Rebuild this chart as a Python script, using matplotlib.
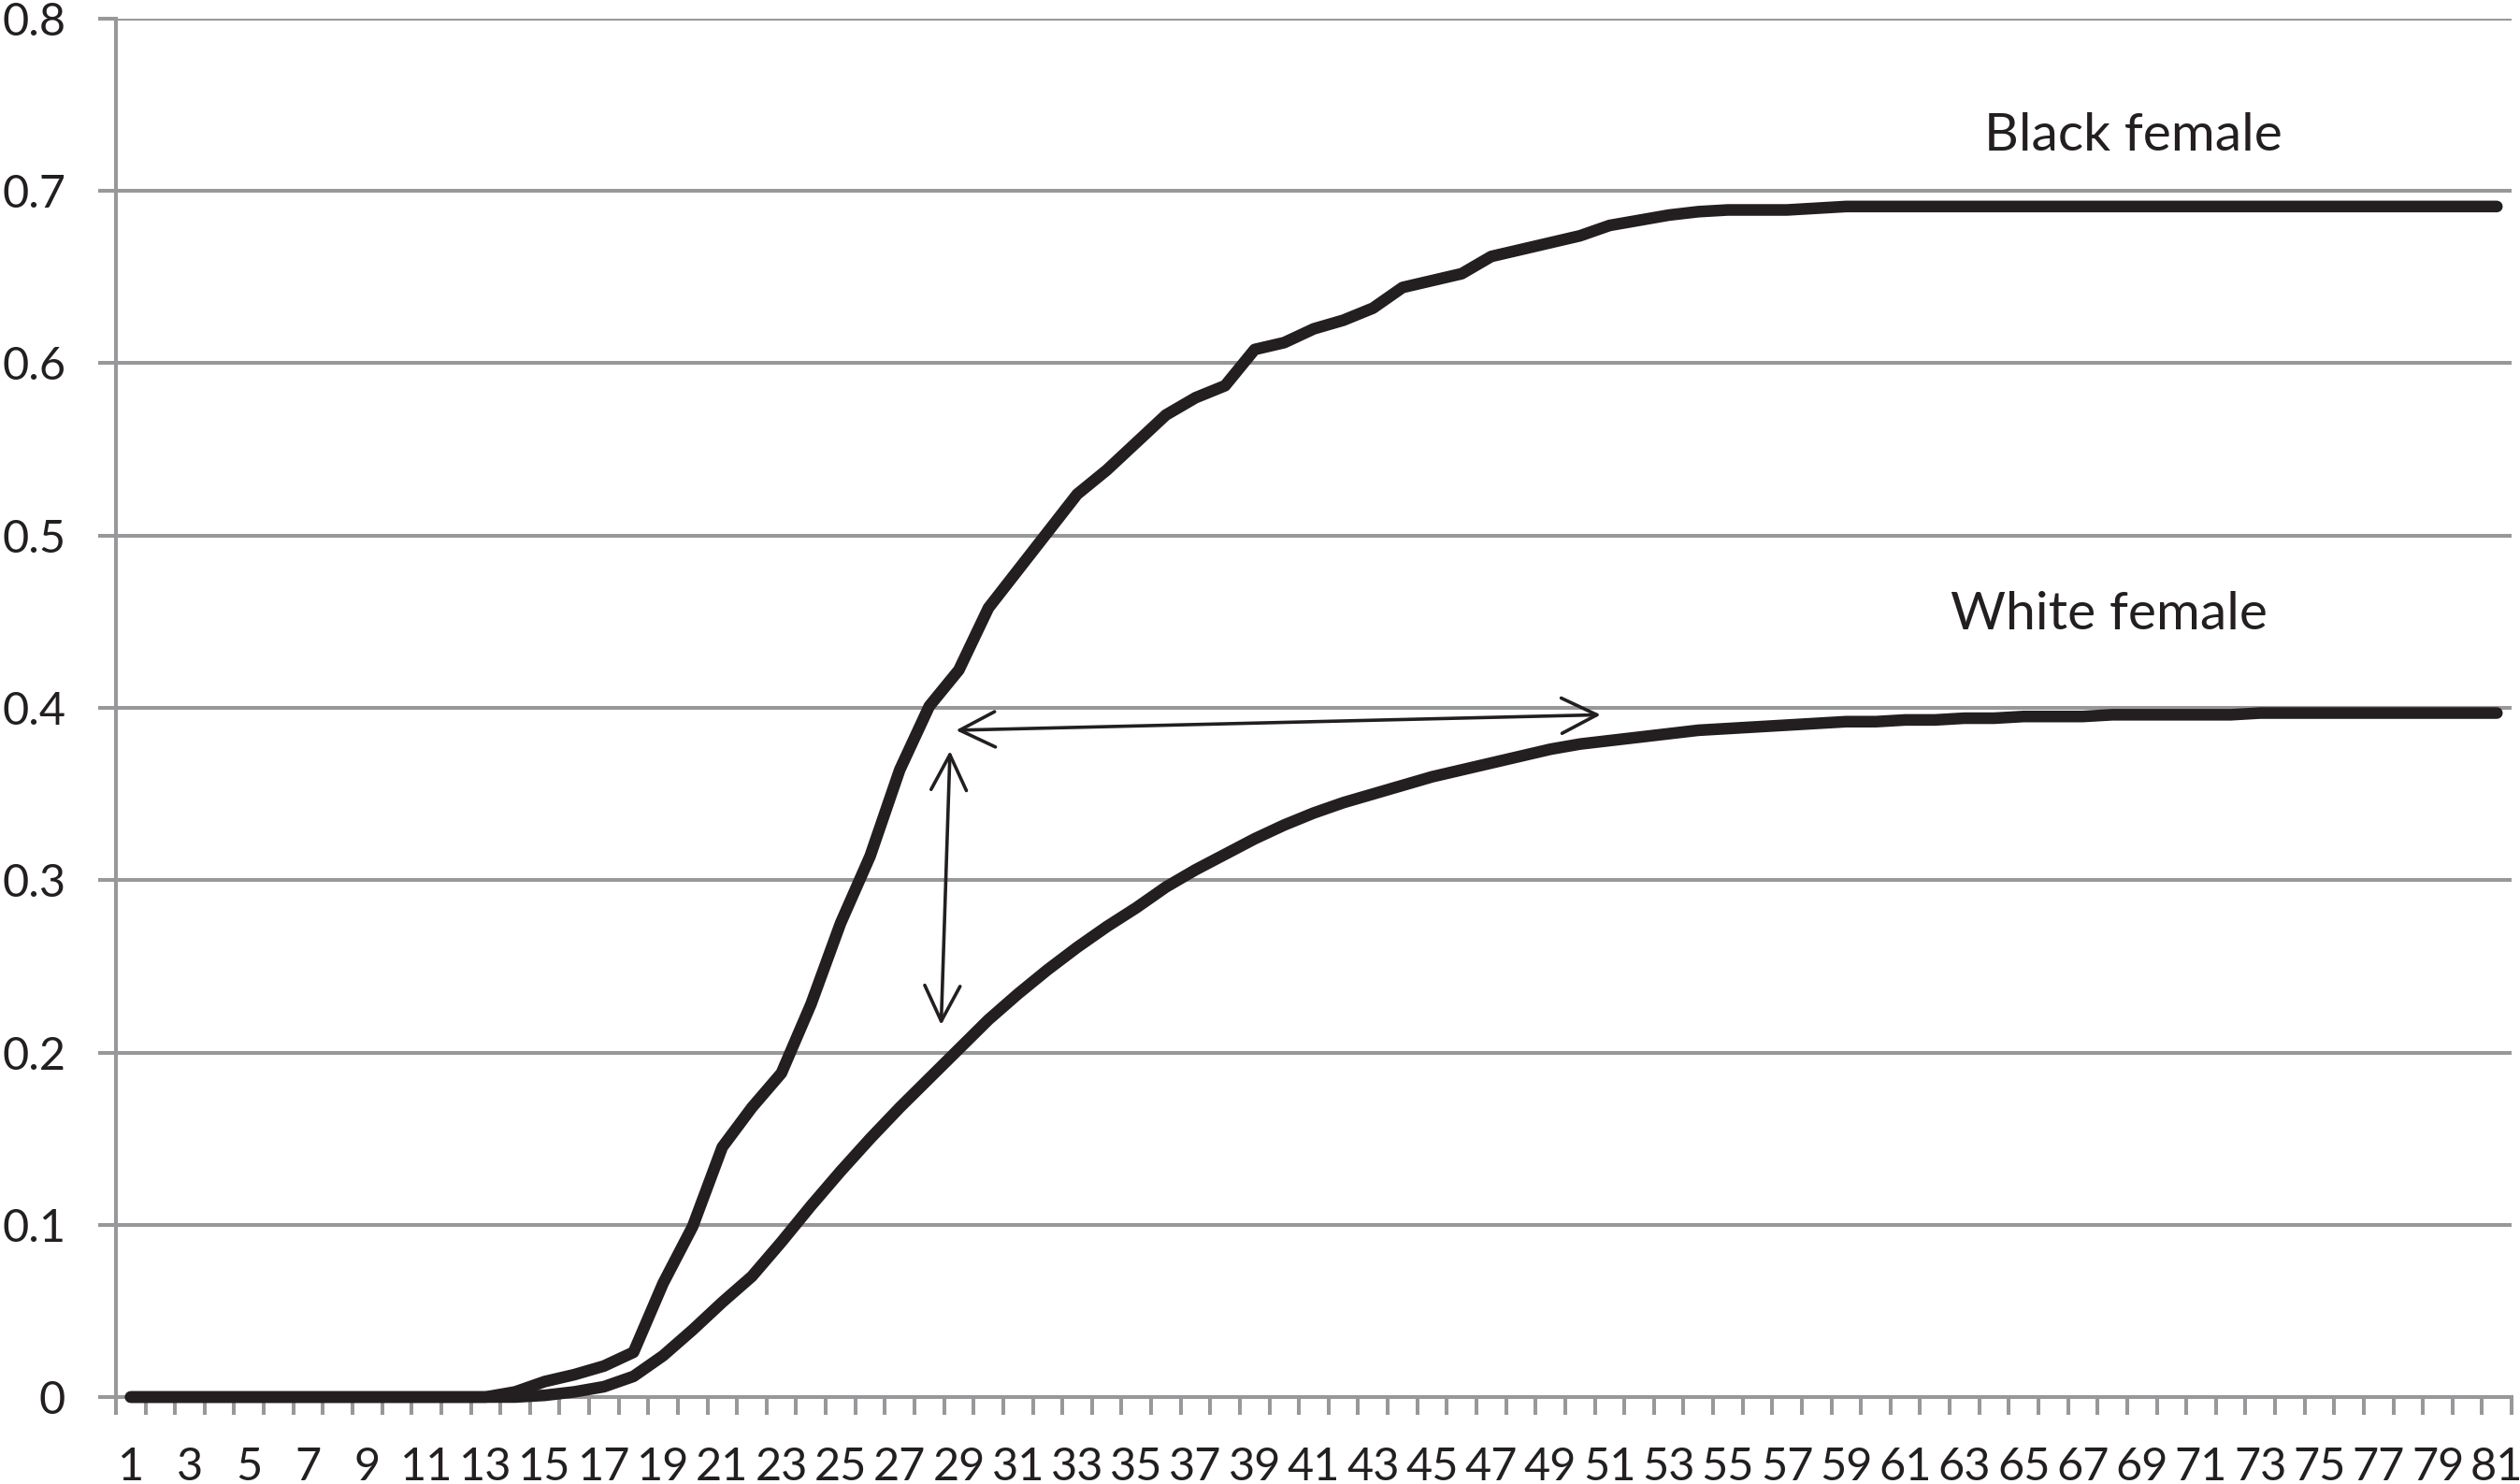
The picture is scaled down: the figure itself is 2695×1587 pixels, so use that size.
import matplotlib.pyplot as plt
from matplotlib.patches import FancyArrowPatch
from matplotlib.ticker import FixedLocator, NullFormatter

# ages 1..81 on a category axis
ages = list(range(1, 82))

black_female = [
    0, 0, 0, 0, 0, 0, 0, 0, 0, 0, 0, 0, 0,
    0.003, 0.009, 0.013, 0.018, 0.026, 0.066, 0.099, 0.145, 0.168, 0.188,
    0.228, 0.275, 0.314, 0.364, 0.401, 0.422, 0.458, 0.480, 0.502, 0.524,
    0.538, 0.554, 0.570, 0.580, 0.587, 0.608, 0.612, 0.620, 0.625, 0.632,
    0.644, 0.648, 0.652, 0.662, 0.666, 0.670, 0.674, 0.680, 0.683, 0.686,
    0.688, 0.689, 0.689, 0.689, 0.690,
    0.691, 0.691, 0.691, 0.691, 0.691, 0.691, 0.691, 0.691, 0.691, 0.691,
    0.691, 0.691, 0.691, 0.691, 0.691, 0.691, 0.691, 0.691, 0.691, 0.691,
    0.691, 0.691, 0.691,
]

white_female = [
    0, 0, 0, 0, 0, 0, 0, 0, 0, 0, 0, 0, 0, 0,
    0.001, 0.003, 0.006, 0.012, 0.024, 0.039, 0.055, 0.070, 0.090, 0.111,
    0.131, 0.150, 0.168, 0.185, 0.202, 0.219, 0.234, 0.248, 0.261, 0.273,
    0.284, 0.296, 0.306, 0.315, 0.324, 0.332, 0.339, 0.345, 0.350, 0.355,
    0.360, 0.364, 0.368, 0.372, 0.376, 0.379, 0.381, 0.383, 0.385, 0.387,
    0.388, 0.389, 0.390, 0.391, 0.392, 0.392, 0.393, 0.393, 0.394, 0.394,
    0.395, 0.395, 0.395, 0.396, 0.396, 0.396, 0.396, 0.396, 0.397, 0.397,
    0.397, 0.397, 0.397, 0.397, 0.397, 0.397, 0.397,
]

y_ticks = [0, 0.1, 0.2, 0.3, 0.4, 0.5, 0.6, 0.7, 0.8]
y_labels = ["0", "0.1", "0.2", "0.3", "0.4", "0.5", "0.6", "0.7", "0.8"]

# annotation positions (data units)
label_black = (68.7, 0.732, "Black female")
label_white = (67.9, 0.454, "White female")
gap_horizontal = ((28.9, 0.387), (50.7, 0.396))
gap_vertical = ((28.7, 0.375), (28.4, 0.216))

INK = "#231f20"
GRID = "#98989b"

plt.rcParams["font.family"] = ["Lato", "DejaVu Sans"]

fig = plt.figure(figsize=(26.95, 15.87), dpi=100)
ax = fig.add_axes([0.046, 0.0586, 0.9507, 0.9288])

ax.plot(ages, black_female, color=INK, lw=9,
        solid_capstyle="round", solid_joinstyle="round", zorder=3,
        clip_on=False)
ax.plot(ages, white_female, color=INK, lw=9,
        solid_capstyle="round", solid_joinstyle="round", zorder=3,
        clip_on=False)

ax.set_xlim(0.5, 81.5)
ax.set_ylim(0, 0.8)

# y axis
ax.set_yticks(y_ticks)
ax.set_yticklabels(y_labels)
ax.yaxis.grid(True, color=GRID, lw=2.9)
ax.set_axisbelow(True)
ax.tick_params(axis="y", length=13.7, width=2.9, color=GRID, pad=25,
               labelsize=35, labelcolor=INK)

# x axis: labels on odd ages, tick marks between categories
ax.set_xticks(ages[::2])
ax.set_xticklabels([str(a) for a in ages[::2]])
ax.tick_params(axis="x", which="major", length=0, pad=38,
               labelsize=35, labelcolor=INK)
ax.xaxis.set_minor_locator(FixedLocator([a + 0.5 for a in [0] + ages]))
ax.xaxis.set_minor_formatter(NullFormatter())
ax.tick_params(axis="x", which="minor", length=13.7, width=2.9, color=GRID)

for side in ["top", "right"]:
    ax.spines[side].set_visible(False)
for side in ["left", "bottom"]:
    ax.spines[side].set_color(GRID)
    ax.spines[side].set_linewidth(2.9)

for x, y, txt in [label_black, label_white]:
    ax.text(x, y, txt, fontsize=41, color=INK, ha="center", va="center")

for start, end in [gap_horizontal, gap_vertical]:
    arrow = FancyArrowPatch(start, end,
                            arrowstyle="<->,head_length=0.4,head_width=0.2",
                            mutation_scale=68, color=INK, lw=2.6,
                            shrinkA=0, shrinkB=0, zorder=4)
    ax.add_patch(arrow)

fig.savefig("out.png", dpi=100)
